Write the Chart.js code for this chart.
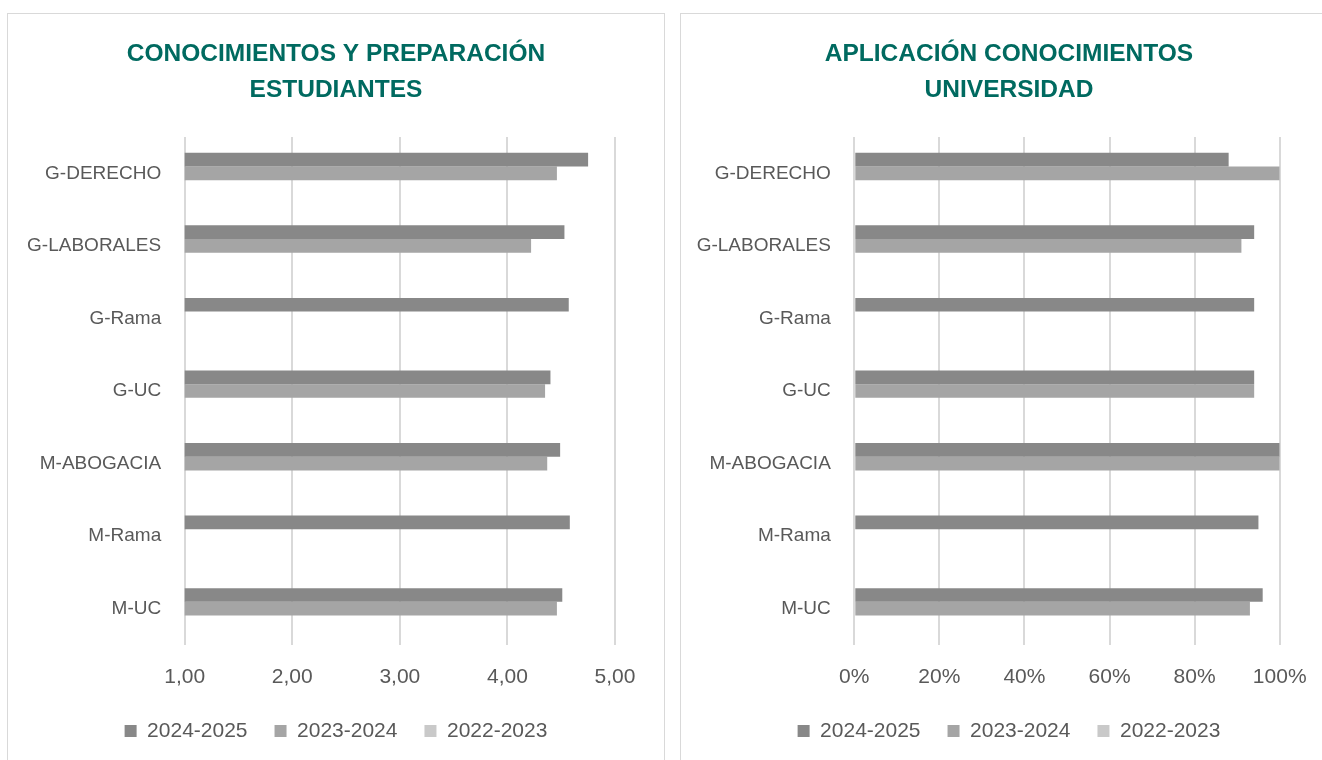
<!DOCTYPE html>
<html>
<head>
<meta charset="utf-8">
<script src="https://cdn.jsdelivr.net/npm/chart.js@4"></script>
<style>
  html, body { margin:0; padding:0; background:#fff; width:1322px; height:760px; overflow:hidden; }
  .panel { position:absolute; top:13px; width:656px; height:760px; border:1px solid #D9D9D9; background:#fff; }
  #p1 { left:7px; }
  #p2 { left:680px; }
  canvas { display:block; }
</style>
</head>
<body>
<div class="panel" id="p1"><canvas id="c1" width="656" height="747"></canvas></div>
<div class="panel" id="p2"><canvas id="c2" width="656" height="747"></canvas></div>
<script>
const categories = ['G-DERECHO', 'G-LABORALES', 'G-Rama', 'G-UC', 'M-ABOGACIA', 'M-Rama', 'M-UC'];
const seriesNames = ['2024-2025', '2023-2024', '2022-2023'];
const seriesColors = ['#888888', '#A5A5A5', '#C9C9C9'];

const title1 = ['CONOCIMIENTOS Y PREPARACIÓN', 'ESTUDIANTES'];
const conoc2425 = [4.75, 4.53, 4.57, 4.40, 4.49, 4.58, 4.51];
const conoc2324 = [4.46, 4.22, null, 4.35, 4.37, null, 4.46];
const conoc2223 = [null, null, null, null, null, null, null];
const ticks1 = ['1,00', '2,00', '3,00', '4,00', '5,00'];
const ticks1Values = [1, 2, 3, 4, 5];

const title2 = ['APLICACIÓN CONOCIMIENTOS', 'UNIVERSIDAD'];
const aplic2425 = [88, 94, 94, 94, 100, 95, 96];
const aplic2324 = [100, 91, null, 94, 100, null, 93];
const aplic2223 = [null, null, null, null, null, null, null];
const ticks2 = ['0%', '20%', '40%', '60%', '80%', '100%'];
const ticks2Values = [0, 20, 40, 60, 80, 100];

const FONT = "'Liberation Sans', Arial, sans-serif";
const TXT = '#595959';

function makeChart(id, title, s1, s2, s3, tickVals, tickLabels, yWidth, padRight) {
  const sets = [s1, s2, s3];
  new Chart(document.getElementById(id), {
    type: 'bar',
    data: {
      labels: categories,
      datasets: sets.map((d, i) => ({
        label: seriesNames[i],
        data: d,
        backgroundColor: seriesColors[i],
        borderWidth: 0,
        categoryPercentage: 0.566,
        barPercentage: 1.0
      }))
    },
    options: {
      indexAxis: 'y',
      responsive: false,
      animation: false,
      devicePixelRatio: 1,
      layout: { padding: { left: 0, right: 0, top: 0, bottom: 9.5 } },
      plugins: {
        title: {
          display: true,
          text: title,
          color: '#006A60',
          font: { family: FONT, size: 24.5, weight: 'bold', lineHeight: 1.47 },
          padding: { top: 22, bottom: 29 }
        },
        legend: {
          display: true,
          position: 'bottom',
          labels: {
            color: TXT,
            font: { family: FONT, size: 21 },
            boxWidth: 12,
            boxHeight: 12,
            padding: 27
          }
        },
        tooltip: { enabled: false }
      },
      scales: {
        x: {
          type: 'linear',
          min: tickVals[0],
          max: tickVals[tickVals.length - 1],
          afterBuildTicks: (s) => { s.ticks = tickVals.map(v => ({ value: v })); },
          afterFit: (s) => { s.height = 48.5; },
          grid: { color: '#D9D9D9', lineWidth: 2, drawTicks: false },
          border: { display: false },
          ticks: {
            padding: 19.4,
            color: TXT,
            font: { family: FONT, size: 21 },
            maxRotation: 0,
            autoSkip: false,
            callback: (v) => { const i = tickVals.indexOf(v); return i >= 0 ? tickLabels[i] : ''; }
          }
        },
        y: {
          afterFit: (s) => { s.width = yWidth; },
          grid: { display: false, drawTicks: false },
          border: { display: false },
          ticks: {
            padding: 23.5,
            color: TXT,
            font: { family: FONT, size: 19 }
          }
        },
        yPad: {
          type: 'category',
          position: 'right',
          labels: [''],
          afterFit: (s) => { s.width = padRight; },
          grid: { display: false, drawTicks: false },
          border: { display: false },
          ticks: { display: false }
        }
      }
    }
  });
}

makeChart('c1', title1, conoc2425, conoc2324, conoc2223, ticks1Values, ticks1, 176.7, 49);
makeChart('c2', title2, aplic2425, aplic2324, aplic2223, ticks2Values, ticks2, 173.3, 57.3);
</script>
</body>
</html>
